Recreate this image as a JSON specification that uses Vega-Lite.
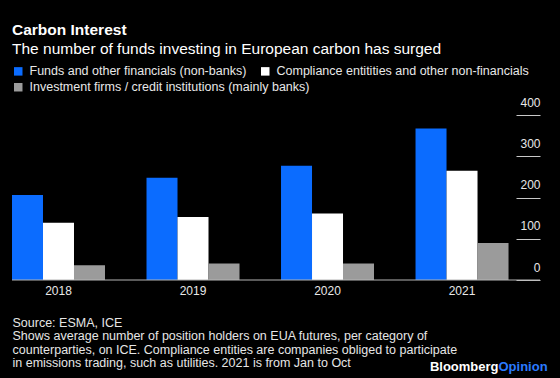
{
  "$schema": "https://vega.github.io/schema/vega-lite/v6.json",
  "width": 528,
  "height": 165,
  "autosize": {"type": "none"},
  "padding": {"left": 12, "top": 115, "right": 20, "bottom": 98},
  "background": "#000000",
  "config": {"view": {"stroke": null}, "font": "Liberation Sans"},
  "title": {
    "text": "Carbon Interest",
    "subtitle": "The number of funds investing in European carbon has surged",
    "anchor": "start",
    "frame": "group",
    "fontSize": 15.5,
    "fontWeight": "bold",
    "color": "#ffffff",
    "subtitleFontSize": 15.5,
    "subtitleColor": "#ffffff",
    "subtitlePadding": 3,
    "offset": 8
  },
  "data": {
    "values": [
      {"year": "2018", "category": "Funds and other financials (non-banks)", "value": 206},
      {"year": "2018", "category": "Compliance entitities and other non-financials", "value": 139},
      {"year": "2018", "category": "Investment firms / credit institutions (mainly banks)", "value": 36},
      {"year": "2019", "category": "Funds and other financials (non-banks)", "value": 248},
      {"year": "2019", "category": "Compliance entitities and other non-financials", "value": 153},
      {"year": "2019", "category": "Investment firms / credit institutions (mainly banks)", "value": 40},
      {"year": "2020", "category": "Funds and other financials (non-banks)", "value": 277},
      {"year": "2020", "category": "Compliance entitities and other non-financials", "value": 161},
      {"year": "2020", "category": "Investment firms / credit institutions (mainly banks)", "value": 40},
      {"year": "2021", "category": "Funds and other financials (non-banks)", "value": 367},
      {"year": "2021", "category": "Compliance entitities and other non-financials", "value": 265},
      {"year": "2021", "category": "Investment firms / credit institutions (mainly banks)", "value": 90}
    ]
  },
  "layer": [
    {
      "transform": [{"filter": "datum.category !== 'Investment firms / credit institutions (mainly banks)'"}],
      "mark": {"type": "bar"},
      "encoding": {
        "x": {
          "field": "year",
          "type": "nominal",
          "scale": {"paddingInner": 0.3086, "paddingOuter": 0.117, "align": 0},
          "axis": {
            "orient": "bottom",
            "domain": false,
            "ticks": false,
            "labelAngle": 0,
            "labelPadding": 5,
            "labelFontSize": 12,
            "labelColor": "#e8e8e8",
            "title": [
              "Source: ESMA, ICE",
              "Shows average number of position holders on EUA futures, per category of",
              "counterparties, on ICE. Compliance entities are companies obliged to participate",
              "in emissions trading, such as utilities. 2021 is from Jan to Oct"
            ],
            "titleX": 0,
            "titleY": 46.5,
            "titleAlign": "left",
            "titleAnchor": "start",
            "titleBaseline": "alphabetic",
            "titleFontSize": 12.5,
            "titleFontWeight": "normal",
            "titleColor": "#e6e6e6",
            "titleLineHeight": 13.3
          }
        },
        "xOffset": {
          "field": "category",
          "type": "nominal",
          "sort": [
            "Funds and other financials (non-banks)",
            "Compliance entitities and other non-financials",
            "Investment firms / credit institutions (mainly banks)"
          ],
          "scale": {
            "domain": [
              "Funds and other financials (non-banks)",
              "Compliance entitities and other non-financials",
              "Investment firms / credit institutions (mainly banks)"
            ],
            "paddingInner": 0,
            "paddingOuter": 0
          }
        },
        "y": {
          "field": "value",
          "type": "quantitative",
          "scale": {"domain": [0, 400], "nice": false},
          "axis": {
            "orient": "right",
            "offset": -24,
            "values": [0, 100, 200, 300, 400],
            "domain": false,
            "grid": false,
            "tickSize": 24,
            "tickColor": "#c8c8c8",
            "tickWidth": 1,
            "labelAlign": "right",
            "labelBaseline": "alphabetic",
            "labelPadding": 0,
            "labelOffset": -9,
            "labelFontSize": 12,
            "labelColor": "#e8e8e8",
            "title": "Bloomberg",
            "titleColor": "#ffffff",
            "titleFontSize": 13,
            "titleFontWeight": "bold",
            "titleAngle": 0,
            "titleAlign": "right",
            "titleBaseline": "alphabetic",
            "titleX": -18,
            "titleY": 255
          }
        },
        "color": {
          "field": "category",
          "type": "nominal",
          "scale": {
            "domain": [
              "Funds and other financials (non-banks)",
              "Compliance entitities and other non-financials",
              "Investment firms / credit institutions (mainly banks)"
            ],
            "range": ["#0b6cff", "#ffffff", "#9b9b9b"]
          },
          "legend": {
            "values": [
              "Funds and other financials (non-banks)",
              "Compliance entitities and other non-financials"
            ],
            "orient": "none",
            "legendX": 0,
            "legendY": -50,
            "direction": "horizontal",
            "title": null,
            "padding": 0,
            "symbolType": "square",
            "symbolSize": 72,
            "symbolStrokeWidth": 0,
            "labelFontSize": 12.5,
            "labelColor": "#e8e8e8",
            "labelLimit": 400,
            "labelOffset": 5,
            "columnPadding": 12
          }
        }
      }
    },
    {
      "transform": [{"filter": "datum.category === 'Investment firms / credit institutions (mainly banks)'"}],
      "mark": {"type": "bar"},
      "encoding": {
        "x": {"field": "year", "type": "nominal"},
        "xOffset": {"field": "category", "type": "nominal"},
        "y": {
          "field": "value",
          "type": "quantitative",
          "scale": {"domain": [0, 400], "nice": false},
          "axis": null
        },
        "color": {
          "field": "category",
          "type": "nominal",
          "legend": {
            "values": ["Investment firms / credit institutions (mainly banks)"],
            "orient": "none",
            "legendX": 0,
            "legendY": -34,
            "direction": "horizontal",
            "title": null,
            "padding": 0,
            "symbolType": "square",
            "symbolSize": 72,
            "symbolStrokeWidth": 0,
            "labelFontSize": 12.5,
            "labelColor": "#e8e8e8",
            "labelLimit": 400,
            "labelOffset": 5
          }
        }
      }
    },
    {
      "data": {"values": [{"base": 0}]},
      "mark": {"type": "rule", "color": "#b4b4b4", "strokeWidth": 1},
      "encoding": {
        "y": {
          "field": "base",
          "type": "quantitative",
          "scale": {"domain": [0, 400], "nice": false},
          "axis": {
            "orient": "left",
            "labels": false,
            "ticks": false,
            "domain": false,
            "grid": false,
            "title": "Opinion",
            "titleColor": "#2a7bff",
            "titleFontSize": 13,
            "titleFontWeight": "bold",
            "titleAngle": 0,
            "titleAlign": "left",
            "titleBaseline": "alphabetic",
            "titleX": 486,
            "titleY": 255
          }
        }
      }
    }
  ],
  "resolve": {
    "scale": {"y": "independent"},
    "axis": {"y": "independent"},
    "legend": {"color": "independent"}
  }
}
